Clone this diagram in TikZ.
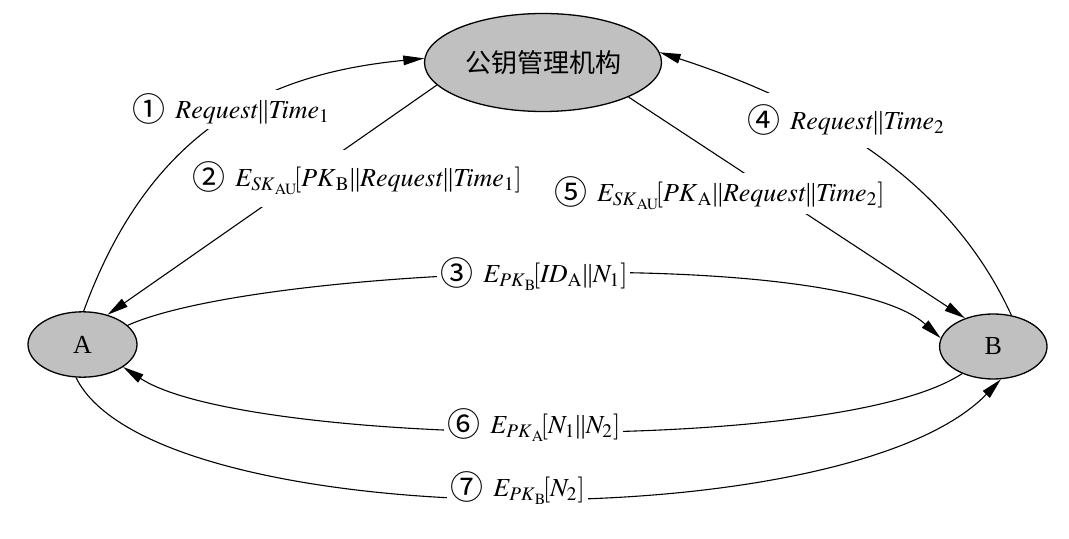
\documentclass[tikz,border=0pt]{standalone}
\usepackage{mathptmx}
\usepackage{fontspec}
\setmainfont{Liberation Serif}
\newfontfamily\cjk{Noto Sans CJK SC}
\usetikzlibrary{shapes.geometric,arrows.meta}
\definecolor{nodegray}{RGB}{192,192,192}
\newcommand{\cnum}[1]{\raisebox{-1.5pt}{\fontsize{16.5}{16.5}\selectfont\cjk #1}\hspace{5pt}}
\newcommand{\cat}{\mbox{\upshape ||}}
\newcommand{\lb}{\mkern-3mu[}
\begin{document}
\begin{tikzpicture}[x=0.5pt,y=-0.5pt,
  party/.style={ellipse, draw=black, line width=0.65pt, fill=nodegray, inner sep=0pt, font=\fontsize{13}{15}\selectfont},
  conn/.style={line width=0.55pt, -{Triangle[length=10.5pt,width=4.8pt]}},
  lab/.style={fill=white, inner xsep=1.5pt, inner ysep=2pt, anchor=base west, font=\fontsize{13}{15}\selectfont},
]
\useasboundingbox[fill=white] (0,0) rectangle (1069,539);
% parties
\node[party, minimum width=118.5pt, minimum height=49pt] (K) at (543,62.5) {\cjk 公钥管理机构};
\node[party, minimum width=54.5pt, minimum height=32.7pt] (A) at (82.5,344.5) {A};
\node[party, minimum width=53.7pt, minimum height=32.5pt] (B) at (993.3,346.5) {B};
% connectors
\draw[conn] (A.88) .. controls (152.7,122) and (275,73) .. (K.178);
\draw[conn] (K.192) -- (A.50);
\draw[conn] (A.23) .. controls (259.4,266.2) and (837,244.3) .. (B.171);
\draw[conn] (B.60) .. controls (944.7,169.7) and (802.5,99) .. (K.5);
\draw[conn] (K.338) -- (B.135.5);
\draw[conn] (B.221) .. controls (837.7,456.1) and (244,446.3) .. (A.331.5);
\draw[conn] (A.259) .. controls (152.7,534.5) and (844.6,540.8) .. (B.283);
% labels
\node[lab] (l1) at (129,119) {\cnum{①}$\mathit{Request}\cat\mathit{Time}_1$};
\node[lab, inner ysep=6pt] (l2) at (189,187) {\cnum{②}$E_{\mathit{SK}_{\mathrm{AU}}}\lb\mathit{PK}_{\mathrm{B}}\cat\mathit{Request}\cat\mathit{Time}_1]$};
\node[lab] (l3) at (437,283) {\cnum{③}$E_{\mathit{PK}_{\mathrm{B}}}\lb\mathit{ID}_{\mathrm{A}}\cat N_1]$};
\node[lab, inner ysep=6pt] (l4) at (744,130) {\cnum{④}$\mathit{Request}\cat\mathit{Time}_2$};
\node[lab] (l5) at (550.7,201.7) {\cnum{⑤}$E_{\mathit{SK}_{\mathrm{AU}}}\lb\mathit{PK}_{\mathrm{A}}\cat\mathit{Request}\cat\mathit{Time}_2]$};
\node[lab] (l6) at (444,433.3) {\cnum{⑥}$E_{\mathit{PK}_{\mathrm{A}}}\lb N_1\cat N_2]$};
\node[lab] (l7) at (447,496.7) {\cnum{⑦}$E_{\mathit{PK}_{\mathrm{B}}}\lb N_2]$};
\end{tikzpicture}
\end{document}
